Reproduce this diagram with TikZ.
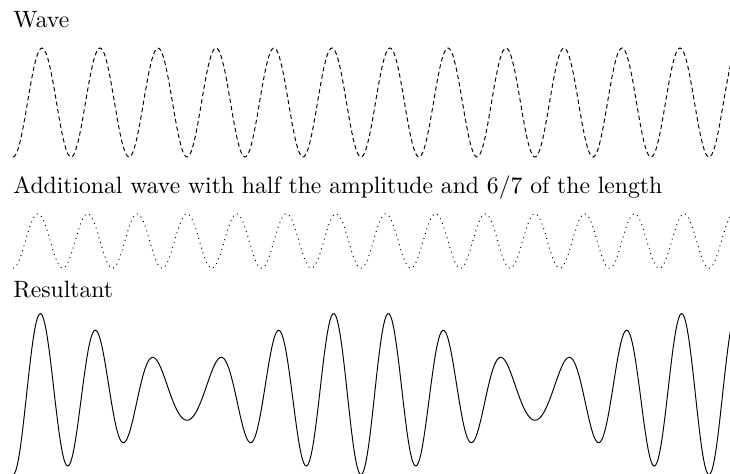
\documentclass[tikz,border=0pt]{standalone}
\usetikzlibrary{positioning}

\begin{document}
\begin{tikzpicture}[
  x=0.4167pt, y=-0.4167pt,
  caption/.style={anchor=base west, inner sep=0pt, scale=0.985},
  wave/.style={line width=0.4pt, domain=13:735, samples=500},
  mainwave/.style={wave, dash pattern=on 1.8pt off 1.3pt},
  addwave/.style={wave, dash pattern=on 0.4pt off 1.7pt},
  sumwave/.style={wave}
]
\useasboundingbox (0,0) rectangle (730,474);

% captions
\node[caption] (lblwave) at (13,27) {Wave};
\node[caption] (lbladd) at (13,193) {Additional wave with half the amplitude and 6/7 of the length};
\node[caption] (lblsum) at (13,297) {Resultant};

\begin{scope}
\clip (0,0) rectangle (730,474);
% wave
\draw[mainwave] plot (\x, {102.5 + 54.5*cos(6.2069*(\x-13))});
% additional wave
\draw[addwave] plot (\x, {241 + 27.25*cos(7.2414*(\x-13))});
% resultant
\draw[sumwave] plot (\x, {393 + 54.5*cos(6.2069*(\x-13)) + 27.25*cos(7.2414*(\x-13))});
\end{scope}
\end{tikzpicture}
\end{document}
